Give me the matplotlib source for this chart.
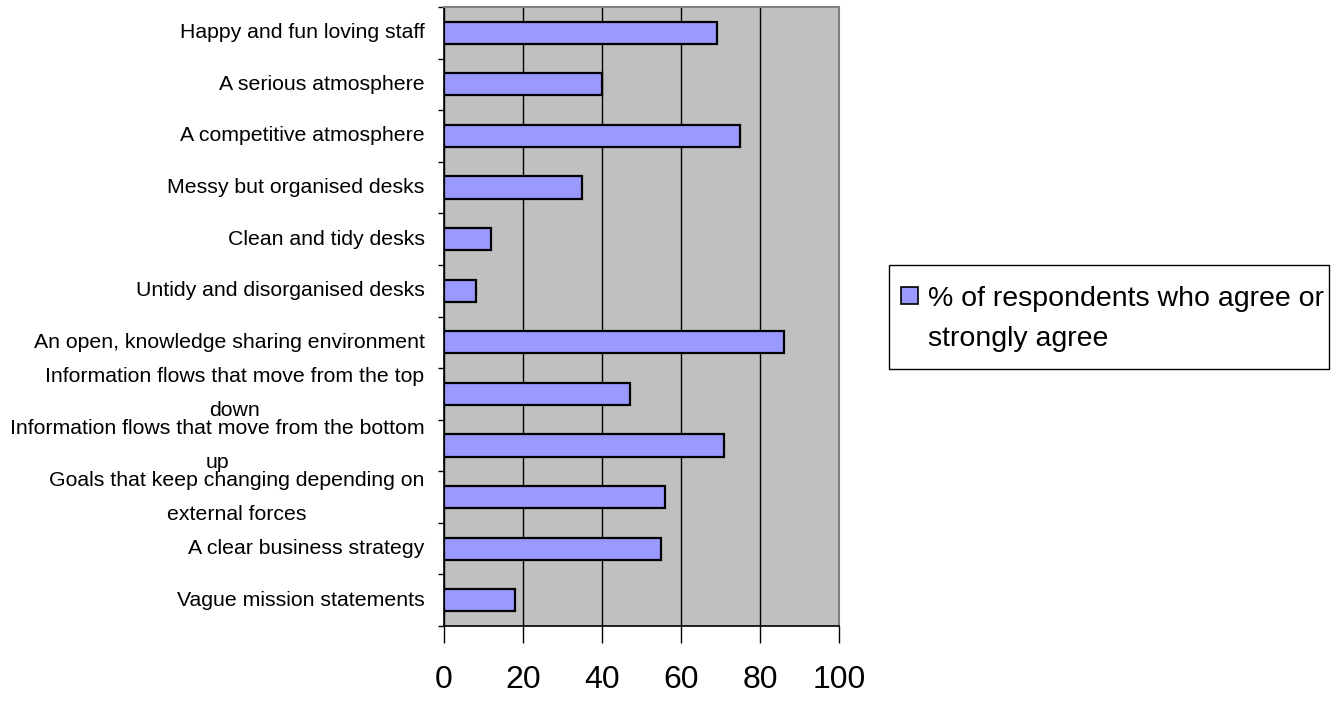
import numpy as np
import matplotlib
matplotlib.use("Agg")
import matplotlib.pyplot as plt
from matplotlib.patches import Rectangle

# survey statements, top to bottom
statements = [
    "Happy and fun loving staff",
    "A serious atmosphere",
    "A competitive atmosphere",
    "Messy but organised desks",
    "Clean and tidy desks",
    "Untidy and disorganised desks",
    "An open, knowledge sharing environment",
    "Information flows that move from the top\ndown",
    "Information flows that move from the bottom\nup",
    "Goals that keep changing depending on\nexternal forces",
    "A clear business strategy",
    "Vague mission statements",
]
agree_pct = [69, 40, 75, 35, 12, 8, 86, 47, 71, 56, 55, 18]
x_ticks = [0, 20, 40, 60, 80, 100]
series_name = "% of respondents who agree or\nstrongly agree"

plt.rcParams["font.family"] = ["Liberation Sans", "DejaVu Sans"]

fig = plt.figure(figsize=(13.31, 7.01), dpi=100)
ax = fig.add_axes([444 / 1331, 1 - 626 / 701, 395 / 1331, 619 / 701])
ax.set_facecolor("#C0C0C0")

pos = np.arange(len(statements))
ax.barh(pos, agree_pct, height=0.43, color="#9999FF", edgecolor="black",
        linewidth=1.6, zorder=3)

ax.set_xlim(0, 100)
ax.set_ylim(len(statements) - 0.5, -0.5)

# category borders get the tick marks, labels sit at the bar centres
ax.set_yticks(np.arange(-0.5, len(statements)), labels=[""] * (len(statements) + 1))
ax.set_yticks(pos, labels=statements, minor=True)
ax.tick_params(axis="y", which="major", length=4, width=1, direction="out")
ax.tick_params(axis="y", which="minor", length=0, pad=14, labelsize=15.3)

ax.set_xticks(x_ticks)
ax.tick_params(axis="x", length=12, width=1, direction="out", pad=16,
               labelsize=23)
ax.xaxis.grid(True, color="black", linewidth=1)
ax.set_axisbelow(True)

for side in ["left", "bottom"]:
    ax.spines[side].set_color("black")
    ax.spines[side].set_linewidth(1.2)
for side in ["top", "right"]:
    ax.spines[side].set_color("#808080")
    ax.spines[side].set_linewidth(1.5)

fig.canvas.draw()
for lbl in ax.get_yticklabels(minor=True):
    lbl.set_linespacing(2.0)
    lbl.set_multialignment("center")
    lbl.set_verticalalignment("center")

# legend box
fig.patches.append(Rectangle((889 / 1331, 1 - 369 / 701), 440 / 1331, 104 / 701,
                             transform=fig.transFigure, facecolor="white",
                             edgecolor="black", linewidth=1))
fig.patches.append(Rectangle((901 / 1331, 1 - 304 / 701), 17 / 1331, 17 / 701,
                             transform=fig.transFigure, facecolor="#9999FF",
                             edgecolor="black", linewidth=1.2))
fig.text(928 / 1331, 1 - 319 / 701, series_name, fontsize=20.5,
         va="center", ha="left", linespacing=1.7)

fig.savefig("out.png", dpi=100)
